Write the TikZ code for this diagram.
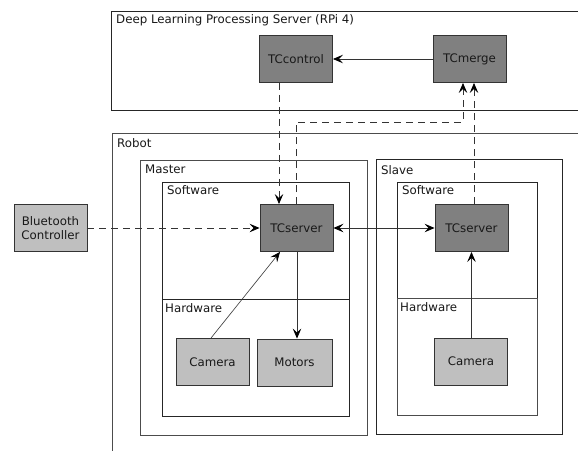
\documentclass[tikz,border=0pt]{standalone}
\usepackage{fontspec}
\setmainfont{DejaVu Sans}
\usetikzlibrary{arrows.meta,calc}
\begin{document}
\begin{tikzpicture}[x=1pt,y=-1pt,
  font=\fontsize{11.8}{14}\selectfont,
  cont/.style={draw=black!70,line width=0.9pt},
  lbl/.style={anchor=north west,inner sep=0pt,text=black!90},
  dark/.style={draw=black!80,fill=black!50,line width=0.9pt,minimum width=73pt,minimum height=47pt,inner sep=0pt,text=black!90},
  light/.style={draw=black!80,fill=black!25,line width=0.9pt,minimum width=73pt,minimum height=47pt,inner sep=0pt,align=center,text=black!90},
  tip/.style={-{Stealth[length=10pt,width=8.5pt,inset=4pt,color=black]}},
  conn/.style={line width=0.8pt,draw=black!80,tip},
  dconn/.style={conn,dash pattern=on 7pt off 5pt},
]
\useasboundingbox (0,0) rectangle (578,450);
\fill[white] (0,0) rectangle (578,450);
% server
\draw[cont,draw=black!85] (590,11) -- (111,11) -- (111,110) -- (590,110);
\node[lbl] (lserver) at (116,14) {Deep Learning Processing Server (RPi 4)};
% robot
\draw[cont] (590,133) -- (112,133) -- (112,460);
\node[lbl] (lrobot) at (117,138) {Robot};
% master
\draw[cont] (140,160) rectangle (367,435);
\node[lbl] (lmaster) at (145,165) {Master};
\draw[cont,draw=black!85] (162,182) rectangle (349,299);
\node[lbl] (lmsw) at (167,185) {Software};
\draw[cont,draw=black!85] (162,299) rectangle (349,416);
\node[lbl] (lmhw) at (165,303) {Hardware};
% slave
\draw[cont,draw=black!85] (376,159) rectangle (562,434);
\node[lbl] (lslave) at (381,165) {Slave};
\draw[cont,draw=black!85] (397,182) rectangle (537,298);
\node[lbl] (lssw) at (402,185) {Software};
\draw[cont] (397,298) rectangle (537,415);
\node[lbl] (lshw) at (400,302) {Hardware};
% nodes
\node[dark] (ctrl) at (296,59) {TCcontrol};
\node[dark] (merge) at (469.5,59) {TCmerge};
\node[dark] (msrv) at (296.5,228) {TCserver};
\node[dark] (ssrv) at (471.5,228) {TCserver};
\node[light] (bt) at (50.5,228) {Bluetooth\\Controller};
\node[light] (mcam) at (212.5,362) {Camera};
\node[light,minimum width=75pt] (mot) at (294.5,362.5) {Motors};
\node[light] (scam) at (471,361.5) {Camera};
% connectors
\draw[conn] (merge) -- (ctrl);
\draw[dconn] (ctrl.south -| 279,0) -- (msrv.north -| 279,0);
\coordinate (c1) at (296.5,122);
\coordinate (c2) at (463,122);
\draw[dconn] (msrv.north) -- (c1) -- (c2) -- (merge.south -| c2);
\draw[dconn] (ssrv.north -| 474,0) -- (merge.south -| 474,0);
\draw[dconn] (bt) -- (msrv);
\draw[conn,{Stealth[length=10pt,width=8.5pt,inset=4pt,color=black]}-{Stealth[length=10pt,width=8.5pt,inset=4pt,color=black]}] (msrv) -- (ssrv);
\draw[conn,line width=0.6pt] (mcam.north -| 211,0) -- (msrv.south -| 280,0);
\draw[conn] (msrv.south -| 297,0) -- (mot.north -| 297,0);
\draw[conn] (scam.north -| 471.5,0) -- (ssrv.south -| 471.5,0);
\end{tikzpicture}
\end{document}
